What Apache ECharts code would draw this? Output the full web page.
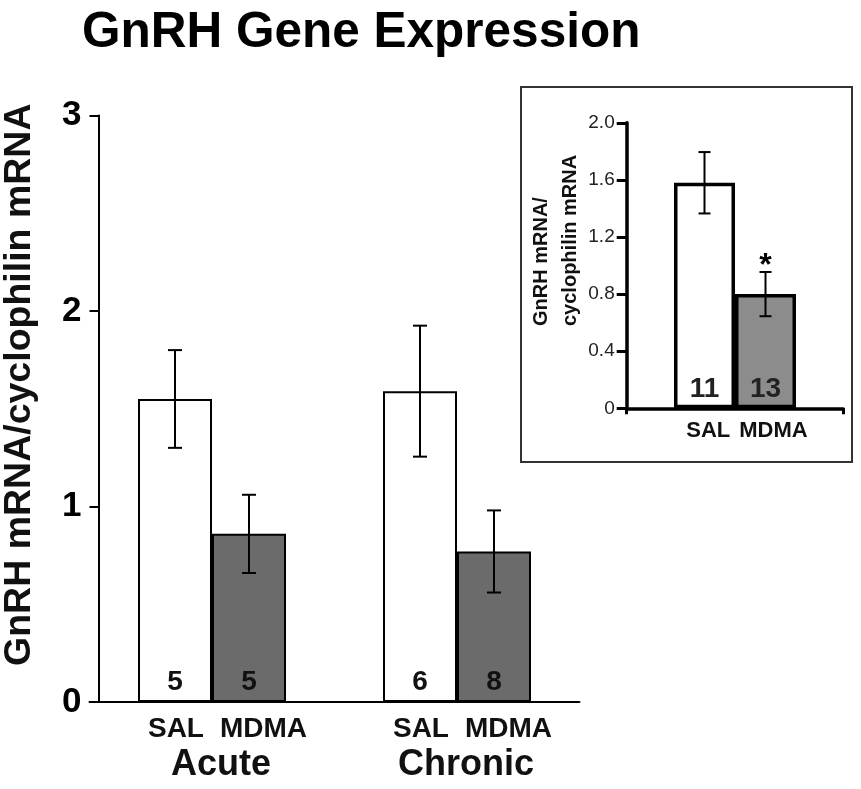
<!DOCTYPE html>
<html>
<head>
<meta charset="utf-8">
<script src="https://cdn.jsdelivr.net/npm/echarts@6/dist/echarts.min.js"></script>
<style>html,body{margin:0;padding:0;background:#fff}#c{width:861px;height:789px}</style>
</head>
<body>
<div id="c"></div>
<script>
// ---- main chart data ----
const groups = ['Acute', 'Chronic'];
const salMean = [1.55, 1.59];
const salErr = [0.25, 0.335];
const mdmaMean = [0.86, 0.77];
const mdmaErr = [0.20, 0.21];
const salN = [5, 6];
const mdmaN = [5, 8];
const mainTickMin = 0, mainTickMax = 3, mainTickStep = 1;

// ---- inset data ----
const insetCats = [''];
const insetSalMean = [1.58];
const insetSalErr = [0.215];
const insetMdmaMean = [0.80];
const insetMdmaErr = [0.155];
const insetSalN = [11];
const insetMdmaN = [13];
const insetSig = ['*'];
const insetTickMin = 0, insetTickMax = 2.0, insetTickStep = 0.4;

const FONT = 'Liberation Sans, Arial, Helvetica, sans-serif';
const chart = echarts.init(document.getElementById('c'));

const MAIN_BW = 74, INSET_BW = 61;

function errRender(offset, capHalf, lw, sigArr) {
  return function (params, api) {
    const x = api.value(0), m = api.value(1), e = api.value(2);
    const top = api.coord([x, m + e]);
    const bot = api.coord([x, m - e]);
    const cx = top[0] + offset;
    const st = { stroke: '#000', lineWidth: lw };
    const children = [
      { type: 'line', shape: { x1: cx, y1: top[1], x2: cx, y2: bot[1] }, style: st },
      { type: 'line', shape: { x1: cx - capHalf, y1: top[1], x2: cx + capHalf, y2: top[1] }, style: st },
      { type: 'line', shape: { x1: cx - capHalf, y1: bot[1], x2: cx + capHalf, y2: bot[1] }, style: st }
    ];
    if (sigArr && sigArr[params.dataIndex]) {
      children.push({ type: 'text', x: cx, y: top[1] + 10,
        style: { text: sigArr[params.dataIndex], fill: '#000', font: 'bold 32px ' + FONT, align: 'center', verticalAlign: 'bottom' } });
    }
    return { type: 'group', children: children };
  };
}

const option = {
  animation: false,
  backgroundColor: '#fff',
  title: {
    text: 'GnRH Gene Expression',
    left: 77, top: 3,
    textStyle: { fontFamily: FONT, fontWeight: 'bold', fontSize: 49.5, color: '#000' }
  },
  graphic: [
    { type: 'rect', shape: { x: 521, y: 87, width: 331, height: 375 },
      style: { fill: 'none', stroke: '#333', lineWidth: 2 }, z: 0 },
    { type: 'text', x: 527, y: 326, rotation: Math.PI / 2,
      style: { text: 'GnRH mRNA/\ncyclophilin mRNA', font: 'bold 20px ' + FONT, fill: '#111',
        align: 'left', verticalAlign: 'top', lineHeight: 29 } }
  ],
  grid: [
    { left: 89.5, width: 490, top: 115.5, bottom: 87, outerBoundsMode: 'none', containLabel: false },
    { left: 626.7, width: 216.6, top: 122.8, bottom: 380.7, outerBoundsMode: 'none', containLabel: false }
  ],
  xAxis: [
    {
      gridIndex: 0, type: 'category', data: groups,
      axisLine: { lineStyle: { color: '#000', width: 2 } },
      axisTick: { show: false },
      axisLabel: {
        interval: 0, margin: 10,
        formatter: function (v) { return '{s|SAL}{g|}{s|MDMA}\n{n|' + v + '}'; },
        rich: {
          s: { fontFamily: FONT, fontWeight: 'bold', fontSize: 28, color: '#111', lineHeight: 34 },
          g: { width: 16 },
          n: { fontFamily: FONT, fontWeight: 'bold', fontSize: 36, color: '#111', lineHeight: 38, padding: [0, 13, 0, 0] }
        },
        padding: [0, 0, 0, 31]
      }
    },
    {
      gridIndex: 1, type: 'category', data: insetCats,
      axisLine: { lineStyle: { color: '#000', width: 3.5 } },
      axisTick: { show: true, length: 6, inside: false, lineStyle: { color: '#000', width: 3 } },
      axisLabel: {
        margin: 12,
        formatter: function () { return '{s|SAL}{g|}{s|MDMA}'; },
        rich: {
          s: { fontFamily: FONT, fontWeight: 'bold', fontSize: 22, color: '#111' },
          g: { width: 9 }
        },
        padding: [0, 0, 0, 24]
      }
    }
  ],
  yAxis: [
    {
      gridIndex: 0, type: 'value', min: mainTickMin, max: mainTickMax, interval: mainTickStep,
      offset: -9,
      name: 'GnRH mRNA/cyclophilin mRNA', nameLocation: 'middle', nameRotate: 90, nameGap: 60,
      nameTextStyle: { fontFamily: FONT, fontWeight: 'bold', fontSize: 37.5, color: '#111', padding: [0, 0, 0, 48] },
      axisLine: { show: true, lineStyle: { color: '#000', width: 2 } },
      axisTick: { show: true, length: 9, lineStyle: { color: '#000', width: 2 } },
      splitLine: { show: false },
      axisLabel: { margin: 17, fontFamily: FONT, fontWeight: 'bold', fontSize: 35, color: '#000' }
    },
    {
      gridIndex: 1, type: 'value', min: insetTickMin, max: insetTickMax, interval: insetTickStep,
      axisLine: { show: true, lineStyle: { color: '#000', width: 3.5 } },
      axisTick: { show: true, length: 10, lineStyle: { color: '#000', width: 3 } },
      splitLine: { show: false },
      axisLabel: { margin: 12, fontFamily: FONT, fontSize: 19, color: '#222',
        formatter: function (v) { return v === 0 ? '0' : v.toFixed(1); } }
    }
  ],
  series: [
    {
      name: 'SAL', type: 'bar', xAxisIndex: 0, yAxisIndex: 0, data: salMean,
      barWidth: MAIN_BW, barGap: '0%',
      itemStyle: { color: '#fff', borderColor: '#000', borderWidth: 2 },
      label: { show: true, position: 'insideBottom', distance: 6,
        formatter: function (p) { return salN[p.dataIndex]; },
        fontFamily: FONT, fontWeight: 'bold', fontSize: 28, color: '#111' }
    },
    {
      name: 'MDMA', type: 'bar', xAxisIndex: 0, yAxisIndex: 0, data: mdmaMean,
      barWidth: MAIN_BW, barGap: '0%',
      itemStyle: { color: '#6b6b6b', borderColor: '#000', borderWidth: 2 },
      label: { show: true, position: 'insideBottom', distance: 6,
        formatter: function (p) { return mdmaN[p.dataIndex]; },
        fontFamily: FONT, fontWeight: 'bold', fontSize: 28, color: '#111' }
    },
    {
      type: 'custom', xAxisIndex: 0, yAxisIndex: 0, z: 5,
      renderItem: errRender(-MAIN_BW / 2, 7, 2),
      data: salMean.map(function (m, i) { return [i, m, salErr[i]]; })
    },
    {
      type: 'custom', xAxisIndex: 0, yAxisIndex: 0, z: 5,
      renderItem: errRender(MAIN_BW / 2, 7, 2),
      data: mdmaMean.map(function (m, i) { return [i, m, mdmaErr[i]]; })
    },
    {
      name: 'SAL inset', type: 'bar', xAxisIndex: 1, yAxisIndex: 1, data: insetSalMean,
      barWidth: INSET_BW, barGap: '0%',
      itemStyle: { color: '#fff', borderColor: '#000', borderWidth: 3.5 },
      label: { show: true, position: 'insideBottom', distance: 5,
        formatter: function (p) { return insetSalN[p.dataIndex]; },
        fontFamily: FONT, fontWeight: 'bold', fontSize: 28, color: '#222' }
    },
    {
      name: 'MDMA inset', type: 'bar', xAxisIndex: 1, yAxisIndex: 1, data: insetMdmaMean,
      barWidth: INSET_BW, barGap: '0%',
      itemStyle: { color: '#8c8c8c', borderColor: '#000', borderWidth: 3.5 },
      label: { show: true, position: 'insideBottom', distance: 5,
        formatter: function (p) { return insetMdmaN[p.dataIndex]; },
        fontFamily: FONT, fontWeight: 'bold', fontSize: 28, color: '#222' }
    },
    {
      type: 'custom', xAxisIndex: 1, yAxisIndex: 1, z: 5,
      renderItem: errRender(-INSET_BW / 2, 6, 2),
      data: insetSalMean.map(function (m, i) { return [i, m, insetSalErr[i]]; })
    },
    {
      type: 'custom', xAxisIndex: 1, yAxisIndex: 1, z: 5,
      renderItem: errRender(INSET_BW / 2, 6, 2, insetSig),
      data: insetMdmaMean.map(function (m, i) { return [i, m, insetMdmaErr[i]]; })
    }
  ]
};
chart.setOption(option);
</script>
</body>
</html>
